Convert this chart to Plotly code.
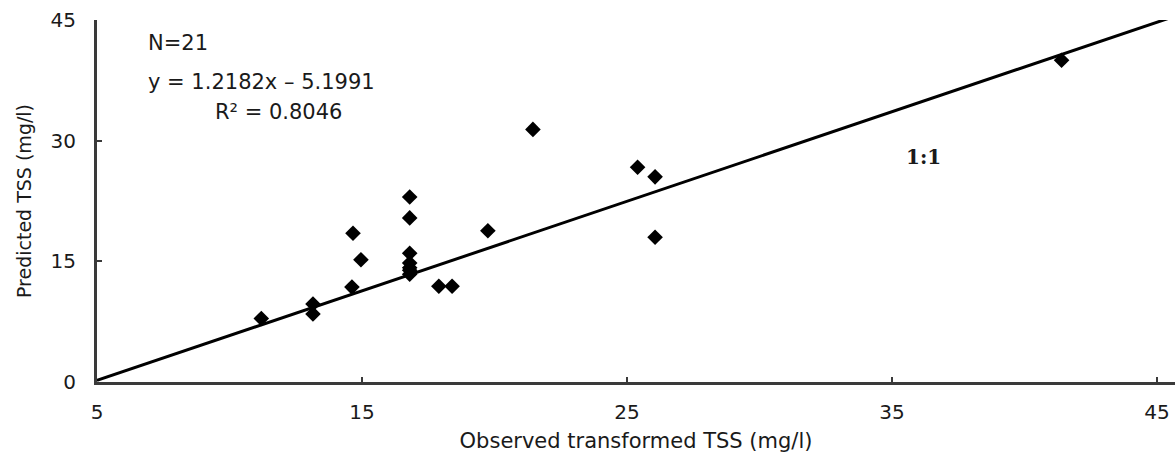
import plotly.graph_objects as go

# Observed transformed TSS (mg/l) vs predicted TSS (mg/l)
obs = [11.2, 13.15, 13.15, 14.66, 14.96, 14.62, 16.8, 16.8, 16.8, 16.8, 16.8, 16.8,
       17.9, 18.4, 19.75, 21.45, 25.4, 26.06, 26.06, 41.4, 16.8]
pred = [7.9, 9.7, 8.45, 18.5, 15.2, 11.8, 23.0, 20.4, 16.0, 14.8, 13.4, 13.9,
        11.9, 11.9, 18.8, 31.4, 26.7, 25.5, 18.0, 40.0, 14.2]

line_x = [5, 45.7]
line_y = [0.2, 45.5]

x_ticks = [5, 15, 25, 35, 45]
y_ticks = [0, 15, 30, 45]

FONT = "DejaVu Sans"
TXT = "#1a1a1a"

fig = go.Figure()
fig.add_trace(go.Scatter(x=line_x, y=line_y, mode="lines",
                         line=dict(color="black", width=3), showlegend=False))
fig.add_trace(go.Scatter(x=obs, y=pred, mode="markers",
                         marker=dict(symbol="diamond", size=12, color="black"),
                         showlegend=False, cliponaxis=False))

fig.update_layout(
    width=1175, height=457,
    margin=dict(l=97, r=0, t=20, b=75),
    paper_bgcolor="white", plot_bgcolor="white",
    font=dict(family=FONT, size=20, color=TXT),
    xaxis=dict(range=[5, 45.68], tickvals=x_ticks, ticktext=[str(v) for v in x_ticks],
               showgrid=False, zeroline=False, showline=True, linecolor="#3a3a3a", linewidth=3,
               ticks="inside", ticklen=5, tickwidth=1.5, tickcolor="#3a3a3a",
               ticklabelstandoff=10, tickfont=dict(size=20),
               title=dict(text="Observed transformed TSS (mg/l)", standoff=11,
                          font=dict(size=21))),
    yaxis=dict(range=[0, 45], tickvals=y_ticks, ticktext=[str(v) for v in y_ticks],
               showgrid=False, zeroline=False, showline=True, linecolor="#3a3a3a", linewidth=3,
               ticks="inside", ticklen=5, tickwidth=1.5, tickcolor="#3a3a3a",
               ticklabelstandoff=14, tickfont=dict(size=20),
               title=dict(text="Predicted TSS (mg/l)", standoff=14, font=dict(size=19))),
)


def ann(px, py, text, anchor="left", size=21, family=FONT, bold=False):
    x0, x1, y0, y1 = 97, 1175, 20, 382
    fig.add_annotation(x=(px - x0) / (x1 - x0), y=(y1 - py) / (y1 - y0),
                       xref="paper", yref="paper",
                       text=("<b>%s</b>" % text) if bold else text, showarrow=False,
                       xanchor=anchor, yanchor="middle",
                       font=dict(size=size, family=family, color=TXT))


ann(146, 43, "N=21")
ann(146, 82, "y = 1.2182x – 5.1991")
ann(278, 112, "R² = 0.8046", anchor="center")
ann(923, 157, "1:1", anchor="center", size=20, family="DejaVu Serif", bold=True)

fig.write_html("out.html")
